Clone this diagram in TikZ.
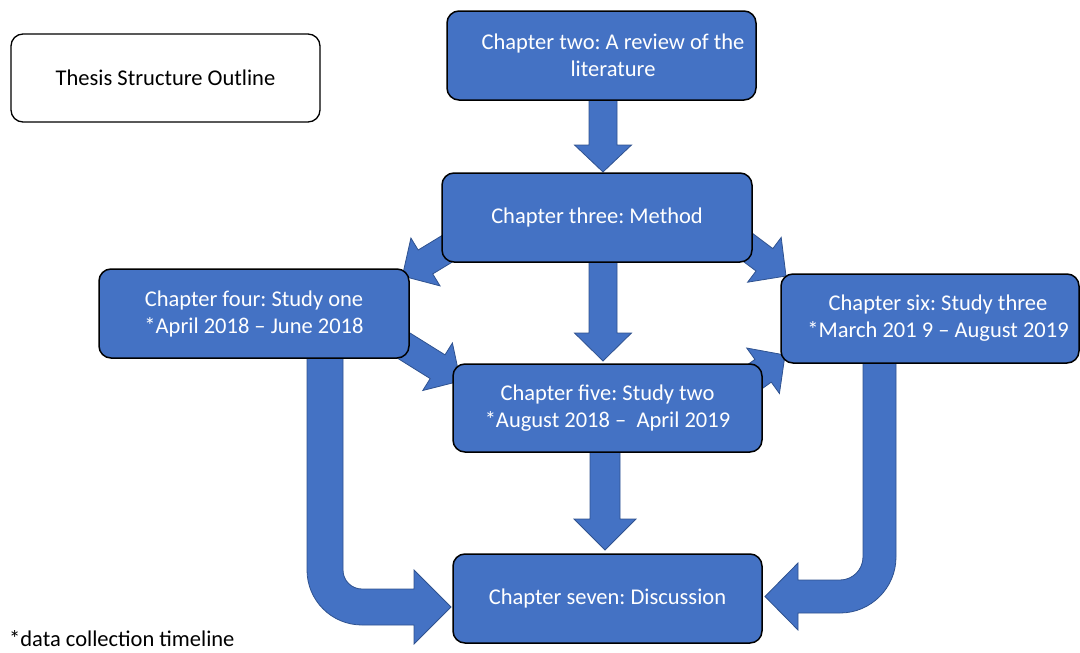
\documentclass[tikz,border=0pt]{standalone}
\usepackage{fontspec}
\setmainfont{Carlito}
\usetikzlibrary{calc,backgrounds}
\definecolor{boxblue}{HTML}{4472C4}
\definecolor{edgeblue}{HTML}{2F528F}
\frenchspacing

\tikzset{
  chapter/.style={draw=black, line width=1.5pt, fill=boxblue, rounded corners=12pt,
    text=white, align=center, font=\fontsize{22.5}{27}\selectfont, inner sep=0pt},
  outlinebox/.style={draw=black, line width=1.3pt, fill=white, rounded corners=12pt,
    align=center, font=\fontsize{22.5}{27}\selectfont, inner sep=0pt},
  boxtext/.style={text=white, align=center, font=\fontsize{22.5}{27}\selectfont, inner sep=0pt},
  blockarrow/.style={fill=boxblue, draw=edgeblue, line width=0.8pt, line join=miter},
  note/.style={font=\fontsize{22.5}{27}\selectfont, inner sep=0pt, anchor=west},
}

% straight block arrow: tail, tip, shaft half width, head half width, head length
\newcommand\fatarrow[5]{%
  \coordinate (fa base) at ($(#2)!#5!(#1)$);
  \draw[blockarrow] ($(#1)!#3!90:(#2)$) -- ($(fa base)!#3!90:(#2)$)
    -- ($(fa base)!#4!90:(#2)$) -- (#2) -- ($(fa base)!#4!-90:(#2)$)
    -- ($(fa base)!#3!-90:(#2)$) -- ($(#1)!#3!-90:(#2)$) -- cycle;}

\begin{document}
\begin{tikzpicture}[x=1pt, y=-1pt]
\useasboundingbox (0,0) rectangle (1080,653);

% title and chapter boxes
\node[outlinebox, minimum width=309, minimum height=88] (title) at (165.5,78) {Thesis Structure Outline};
\node[chapter, minimum width=309, minimum height=89] (ch2) at (601.5,55.5) {};
\node[boxtext] (ch2 text) at (613,55.5) {Chapter two: A review of the\\literature};
\node[chapter, minimum width=310, minimum height=89] (ch3) at (597,217.5) {Chapter three: Method};
\node[chapter, minimum width=310, minimum height=89] (ch4) at (254,313.5) {Chapter four: Study one\\*April 2018 -- June 2018};
\node[chapter, minimum width=309, minimum height=88] (ch5) at (607.5,408) {Chapter five: Study two\\*August 2018 --\ \ April 2019};
\node[chapter, minimum width=298, minimum height=89] (ch6) at (930,318.5) {};
\node[boxtext] (ch6 text) at (938,318.5) {Chapter six: Study three\\*March 201 9 -- August 2019};
\node[chapter, minimum width=309, minimum height=89] (ch7) at (607.5,598.5) {Chapter seven: Discussion};
\node[note] (footnote) at (9,639) {*data collection timeline};

% arrow end points
\coordinate (a23 tail) at (603,95);   \coordinate (a23 tip) at (603,172);
\coordinate (a35 tail) at (603,255);  \coordinate (a35 tip) at (603,361);
\coordinate (a57 tail) at (605,445);  \coordinate (a57 tip) at (605,550);
\coordinate (a34 tail) at (455,244);  \coordinate (a34 tip) at (402.4,276);
\coordinate (a36 tail) at (730,234);  \coordinate (a36 tip) at (786,276);
\coordinate (a45 tail) at (392.5,338.6); \coordinate (a45 tip) at (460.5,381);
\coordinate (a56 tail) at (728,396);  \coordinate (a56 tip) at (785,355);

\begin{pgfonlayer}{background}
  \fatarrow{a23 tail}{a23 tip}{14pt}{28.5pt}{27pt}
  \fatarrow{a35 tail}{a35 tip}{14pt}{28.5pt}{28pt}
  \fatarrow{a57 tail}{a57 tip}{15pt}{31pt}{31pt}
  \fatarrow{a34 tail}{a34 tip}{14pt}{28pt}{27pt}
  \fatarrow{a36 tail}{a36 tip}{14pt}{28pt}{27pt}
  \fatarrow{a45 tail}{a45 tip}{14pt}{28pt}{27pt}
  \fatarrow{a56 tail}{a56 tip}{14pt}{28pt}{27pt}

  % bent arrow: study one down to the discussion
  \draw[blockarrow] (307,350) -- (307,570)
    .. controls (307,600.4) and (331.6,625) .. (362,625)
    -- (414,625) -- (414,644) -- (451,607) -- (414,570) -- (414,589) -- (362,589)
    .. controls (351.5,589) and (343,580.5) .. (343,570) -- (343,350) -- cycle;

  % bent arrow: study three down to the discussion
  \draw[blockarrow] (896,355) -- (896,557)
    .. controls (896,587.9) and (870.9,613) .. (840,613)
    -- (798,613) -- (798,630) -- (765,596.5) -- (798,563) -- (798,580) -- (840,580)
    .. controls (852.7,580) and (863,569.7) .. (863,557) -- (863,355) -- cycle;
\end{pgfonlayer}
\end{tikzpicture}
\end{document}
